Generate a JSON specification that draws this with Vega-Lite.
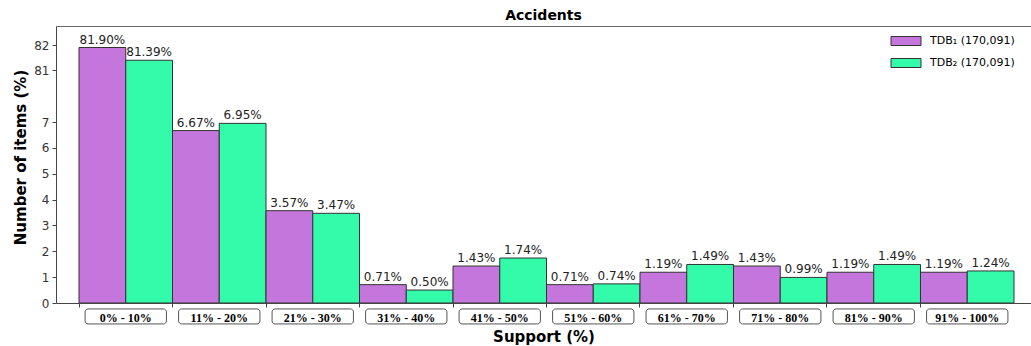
{
  "$schema": "https://vega.github.io/schema/vega-lite/v6.json",
  "width": 975,
  "height": 277,
  "autosize": {"type": "none"},
  "padding": {"left": 56, "top": 26, "right": 0, "bottom": 43},
  "background": "white",
  "title": {
    "text": "Accidents",
    "font": "DejaVu Sans",
    "fontSize": 14,
    "fontWeight": "bold",
    "color": "#000000",
    "anchor": "middle",
    "offset": 3
  },
  "config": {
    "view": {"stroke": null},
    "font": "DejaVu Sans",
    "axis": {
      "labelFont": "DejaVu Sans",
      "labelFontSize": 12,
      "labelColor": "#333333",
      "domainColor": "#444444",
      "tickColor": "#444444",
      "tickSize": 4,
      "grid": false
    }
  },
  "data": {
    "values": [
      {"range": "0% - 10%", "series": "TDB₁ (170,091)", "value": 81.90},
      {"range": "0% - 10%", "series": "TDB₂ (170,091)", "value": 81.39},
      {"range": "11% - 20%", "series": "TDB₁ (170,091)", "value": 6.67},
      {"range": "11% - 20%", "series": "TDB₂ (170,091)", "value": 6.95},
      {"range": "21% - 30%", "series": "TDB₁ (170,091)", "value": 3.57},
      {"range": "21% - 30%", "series": "TDB₂ (170,091)", "value": 3.47},
      {"range": "31% - 40%", "series": "TDB₁ (170,091)", "value": 0.71},
      {"range": "31% - 40%", "series": "TDB₂ (170,091)", "value": 0.50},
      {"range": "41% - 50%", "series": "TDB₁ (170,091)", "value": 1.43},
      {"range": "41% - 50%", "series": "TDB₂ (170,091)", "value": 1.74},
      {"range": "51% - 60%", "series": "TDB₁ (170,091)", "value": 0.71},
      {"range": "51% - 60%", "series": "TDB₂ (170,091)", "value": 0.74},
      {"range": "61% - 70%", "series": "TDB₁ (170,091)", "value": 1.19},
      {"range": "61% - 70%", "series": "TDB₂ (170,091)", "value": 1.49},
      {"range": "71% - 80%", "series": "TDB₁ (170,091)", "value": 1.43},
      {"range": "71% - 80%", "series": "TDB₂ (170,091)", "value": 0.99},
      {"range": "81% - 90%", "series": "TDB₁ (170,091)", "value": 1.19},
      {"range": "81% - 90%", "series": "TDB₂ (170,091)", "value": 1.49},
      {"range": "91% - 100%", "series": "TDB₁ (170,091)", "value": 1.19},
      {"range": "91% - 100%", "series": "TDB₂ (170,091)", "value": 1.24}
    ]
  },
  "resolve": {"axis": {"x": "independent"}},
  "layer": [
    {
      "mark": {"type": "bar", "stroke": "#333333", "strokeWidth": 1},
      "encoding": {
        "x": {
          "field": "range",
          "type": "nominal",
          "sort": null,
          "scale": {"type": "band", "paddingInner": 0, "paddingOuter": 0.214, "align": 0.575},
          "axis": {
            "orient": "top",
            "labels": false,
            "ticks": false,
            "title": null,
            "domainColor": "#666666"
          }
        },
        "xOffset": {
          "field": "series",
          "type": "nominal",
          "scale": {"paddingInner": 0, "paddingOuter": 0}
        },
        "y": {
          "field": "value",
          "type": "quantitative",
          "scale": {"domain": [0, 8.24, 80.2, 82.76], "range": [277, 64, 64, 0], "nice": false, "zero": false},
          "axis": {
            "values": [0, 1, 2, 3, 4, 5, 6, 7, 81, 82],
            "tickCount": 20,
            "format": "d",
            "labelOverlap": false,
            "labelPadding": 3,
            "title": "Number of items (%)",
            "titleFont": "DejaVu Sans",
            "titleFontSize": 15,
            "titleFontWeight": "bold",
            "titleColor": "#000000",
            "titleX": -36,
            "titleY": 131,
            "titleBaseline": "middle"
          }
        },
        "color": {
          "field": "series",
          "type": "nominal",
          "scale": {"range": ["#c576dc", "#33fbaa"]},
          "legend": {
            "title": null,
            "orient": "none",
            "legendX": 842,
            "legendY": 7,
            "padding": 0,
            "symbolType": "M-2,-0.6H2V0.6H-2Z",
            "symbolSize": 225,
            "symbolStrokeColor": "#333333",
            "symbolStrokeWidth": 1,
            "symbolOpacity": 1,
            "labelOffset": 16,
            "labelFont": "DejaVu Sans",
            "labelFontSize": 11,
            "labelColor": "#000000",
            "rowPadding": 7
          }
        }
      }
    },
    {
      "transform": [{"filter": "datum.series == 'TDB₁ (170,091)'"}],
      "mark": {
        "type": "bar",
        "width": {"band": 0.87},
        "fill": "white",
        "stroke": "#555555",
        "strokeWidth": 1,
        "cornerRadius": 3
      },
      "encoding": {
        "x": {
          "field": "range",
          "type": "nominal",
          "sort": null,
          "axis": {
            "orient": "bottom",
            "zindex": 1,
            "labelAngle": 0,
            "bandPosition": 0,
            "labelAlign": "center",
            "labelBound": false,
            "labelFlush": false,
            "labelOverlap": false,
            "labelFont": "Liberation Serif",
            "labelFontWeight": "bold",
            "labelFontSize": 12,
            "labelColor": "#000000",
            "labelPadding": 10,
            "labelBaseline": "middle",
            "labelLineHeight": 12,
            "title": "Support (%)",
            "titleFont": "DejaVu Sans",
            "titleFontSize": 15,
            "titleFontWeight": "bold",
            "titleColor": "#000000",
            "titleBaseline": "middle",
            "titleY": 33
          }
        },
        "y": {"datum": -0.23, "type": "quantitative"},
        "y2": {"datum": -0.81}
      }
    },
    {
      "transform": [{"calculate": "format(datum.value, '.2f') + '%'", "as": "label"}],
      "mark": {
        "type": "text",
        "baseline": "bottom",
        "dy": -1,
        "font": "DejaVu Sans",
        "fontSize": 12,
        "color": "#222222"
      },
      "encoding": {
        "x": {"field": "range", "type": "nominal", "sort": null, "axis": null},
        "xOffset": {"field": "series", "type": "nominal"},
        "y": {"field": "value", "type": "quantitative"},
        "text": {"field": "label"}
      }
    }
  ]
}
